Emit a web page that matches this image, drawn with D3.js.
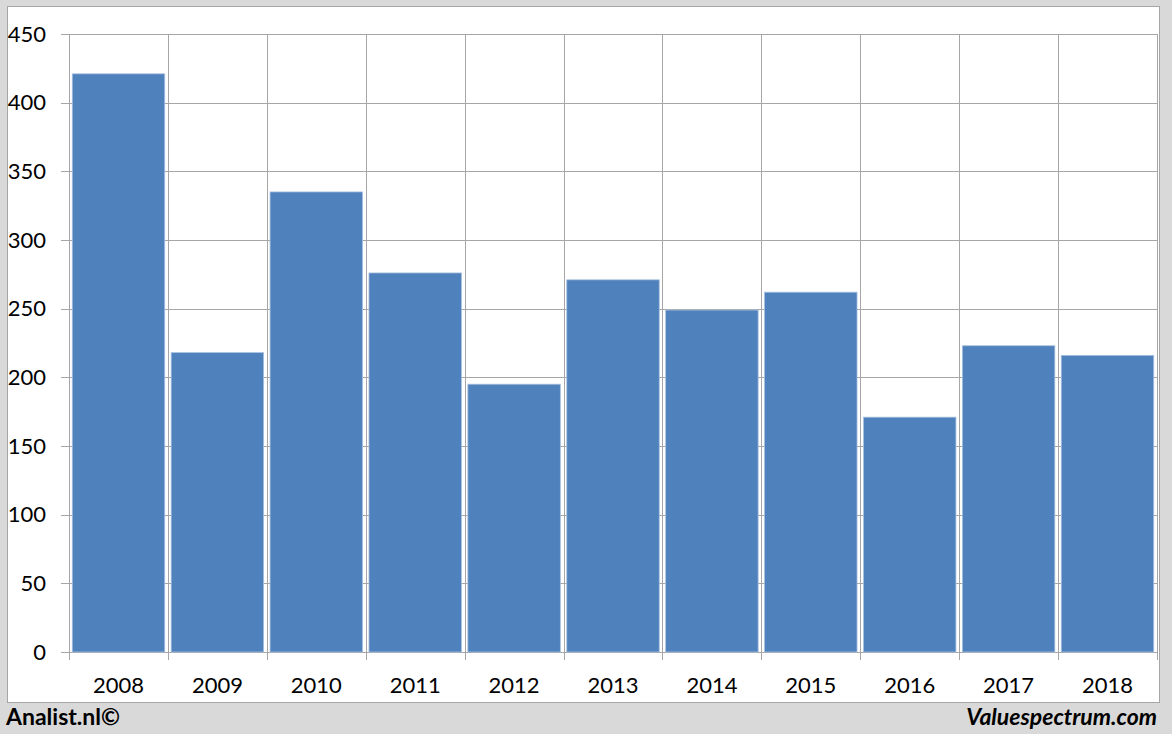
<!DOCTYPE html>
<html><head><meta charset="utf-8">
<script src="https://cdn.jsdelivr.net/npm/d3@7"></script>
<style>
html,body{margin:0;padding:0;background:#d9d9d9;}
svg{display:block;}
text{font-family:Lato,"Open Sans",sans-serif;}
</style></head>
<body><svg id="c" width="1172" height="734"></svg>
<script>
const years = ["2008","2009","2010","2011","2012","2013","2014","2015","2016","2017","2018"];
const values = [421, 218, 335, 276, 195, 271, 249, 262, 171, 223, 216];
const yTicks = [0, 50, 100, 150, 200, 250, 300, 350, 400, 450];

const svg = d3.select("#c");
svg.append("rect").attr("x",0).attr("y",0).attr("width",1172).attr("height",734).attr("fill","#d9d9d9");
svg.append("rect").attr("x",7.5).attr("y",6.5).attr("width",1152).attr("height",696)
  .attr("fill","#fff").attr("stroke","#a6a6a6").attr("stroke-width",1);

const L=69, R=1157, T=34, B=652;
const x = d3.scaleBand().domain(years).range([L,R]).paddingInner(0.065).paddingOuter(0.033);
const xb = d3.scaleLinear().domain([0, years.length]).range([L,R]);
const y = d3.scaleLinear().domain([0,450]).range([B,T]);

const g = svg.append("g");
g.selectAll(".hg").data(yTicks).join("line")
  .attr("x1",L-8).attr("x2",R).attr("y1",d=>Math.round(y(d))+0.5).attr("y2",d=>Math.round(y(d))+0.5)
  .attr("stroke","#a6a6a6").attr("stroke-width",1);
g.selectAll(".vg").data(d3.range(years.length+1)).join("line")
  .attr("x1",d=>Math.round(xb(d))+0.5).attr("x2",d=>Math.round(xb(d))+0.5)
  .attr("y1",T).attr("y2",B+8)
  .attr("stroke","#a6a6a6").attr("stroke-width",1);

g.selectAll(".bar").data(values).join("rect")
  .attr("x",(d,i)=>x(years[i]))
  .attr("width",x.bandwidth())
  .attr("y",d=>y(d))
  .attr("height",d=>B-y(d))
  .attr("fill","#4f81bd").attr("stroke","#a7c0de").attr("stroke-width",0.8);

g.selectAll(".yl").data(yTicks).join("text")
  .attr("x",46).attr("y",d=>y(d)).attr("dy","0.35em")
  .attr("text-anchor","end").attr("font-size",22).attr("fill","#000")
  .text(d=>d);
g.selectAll(".xl").data(years).join("text")
  .attr("x",d=>x(d)+x.bandwidth()/2).attr("y",685).attr("dy","0.35em")
  .attr("text-anchor","middle").attr("font-size",22).attr("fill","#000")
  .text(d=>d);

svg.append("text").attr("x",6).attr("y",725).attr("font-size",23).attr("font-weight","bold")
  .attr("fill","#000").text("Analist.nl©");
svg.append("text").attr("x",1157).attr("y",725).attr("font-size",23).attr("font-weight","bold")
  .attr("font-style","italic").attr("text-anchor","end").attr("fill","#000").text("Valuespectrum.com");
</script></body></html>
